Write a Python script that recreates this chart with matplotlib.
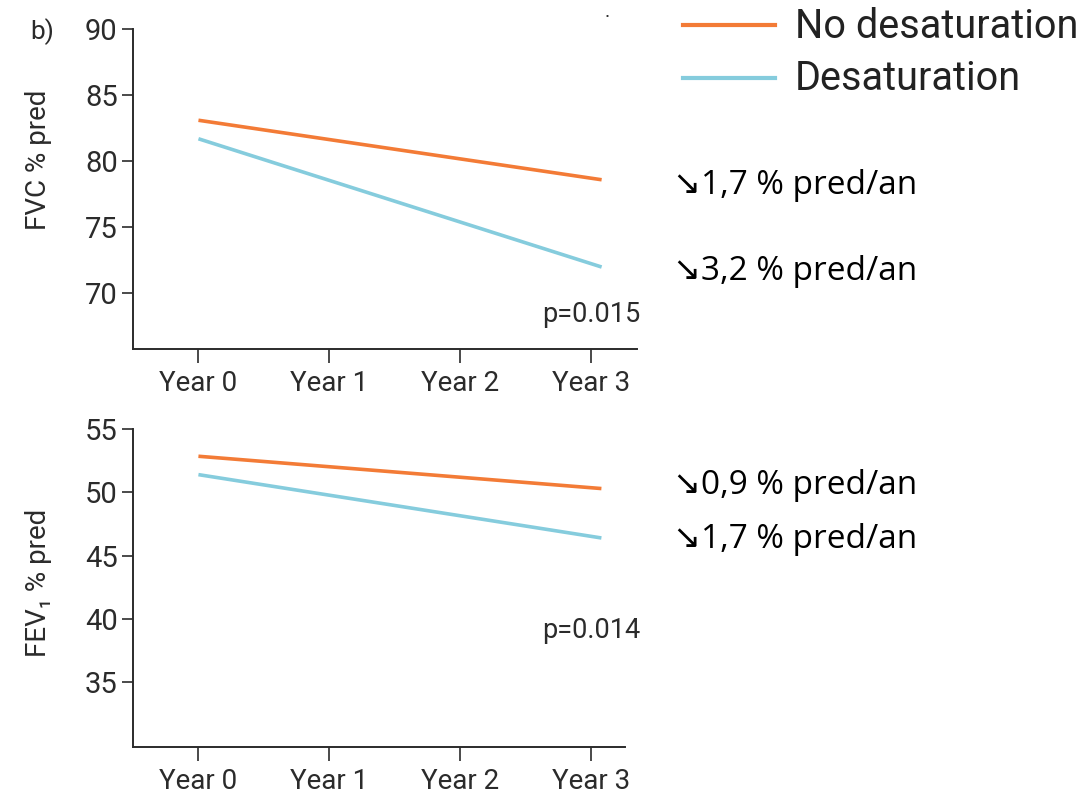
import matplotlib
matplotlib.use("Agg")
import matplotlib.pyplot as plt
from matplotlib.lines import Line2D

# Follow-up years and fitted trend endpoints
year_labels = ["Year 0", "Year 1", "Year 2", "Year 3"]
year_ticks = [0, 1, 2, 3]
fit_years = [0.0, 3.08]

fvc_no_desat = [83.1, 78.6]
fvc_desat = [81.7, 72.0]
fev1_no_desat = [52.85, 50.3]
fev1_desat = [51.4, 46.4]

fvc_ticks = [70, 75, 80, 85, 90]
fev1_ticks = [35, 40, 45, 50, 55]

series_names = ["No desaturation", "Desaturation"]
fvc_p = "p=0.015"
fev1_p = "p=0.014"
fvc_rates = ["\u21981,7 % pred/an", "\u21983,2 % pred/an"]
fev1_rates = ["\u21980,9 % pred/an", "\u21981,7 % pred/an"]

ORANGE = "#F37B36"
BLUE = "#85CCDD"
INK = "#2b2b2b"
W, H = 1092, 793

plt.rcParams["font.family"] = ["Roboto", "DejaVu Sans"]

fig = plt.figure(figsize=(W / 100, H / 100), dpi=100)
fig.patch.set_facecolor("white")

ax1 = fig.add_axes([0.1218, 0.5599, 0.4615, 0.4035])
ax2 = fig.add_axes([0.1218, 0.0580, 0.4505, 0.4010])


def style(ax, yticks, ylim, xlim, ylabel):
    for s in ("top", "right"):
        ax.spines[s].set_visible(False)
    for s in ("left", "bottom"):
        ax.spines[s].set_linewidth(1.4)
        ax.spines[s].set_color(INK)
    ax.set_ylim(*ylim)
    ax.set_xlim(*xlim)
    ax.set_yticks(yticks)
    ax.set_xticks(year_ticks)
    ax.set_xticklabels(year_labels)
    ax.tick_params(axis="y", length=8, width=1.2, color=INK, labelsize=21,
                   labelcolor=INK, pad=3)
    ax.tick_params(axis="x", length=10, width=1.2, color=INK, labelsize=20,
                   labelcolor=INK, pad=5)
    ax.set_ylabel(ylabel, fontsize=20, color=INK)


l1, = ax1.plot(fit_years, fvc_no_desat, color=ORANGE, lw=2.6, solid_capstyle="butt")
l2, = ax1.plot(fit_years, fvc_desat, color=BLUE, lw=2.6, solid_capstyle="butt")
style(ax1, fvc_ticks, (65.8, 90), (-0.50, 3.35), "FVC % pred")

ax2.plot(fit_years, fev1_no_desat, color=ORANGE, lw=2.6, solid_capstyle="butt")
ax2.plot(fit_years, fev1_desat, color=BLUE, lw=2.6, solid_capstyle="butt")
style(ax2, fev1_ticks, (29.9, 55), (-0.50, 3.26), "FEV\u2081 % pred")

ax1.yaxis.set_label_coords(-0.16, 0.59)
ax2.yaxis.set_label_coords(-0.165, 0.516)

# p-values
ax1.text(3.0, 68.4, fvc_p, fontsize=19.5, color=INK, ha="center", va="center")
ax2.text(3.0, 39.1, fev1_p, fontsize=19.5, color=INK, ha="center", va="center")

# panel label
fig.text(30 / W, 1 - 32 / H, "b)", fontsize=19, color=INK, ha="left", va="center")
fig.text(607 / W, 1 - 12 / H, ".", fontsize=14, color=INK, ha="center", va="center")

# legend drawn by hand
for (name, color), ypx in zip(zip(series_names, [ORANGE, BLUE]), [25, 78]):
    fig.add_artist(Line2D([683 / W, 775 / W], [1 - ypx / H, 1 - ypx / H],
                          color=color, lw=3.0, transform=fig.transFigure))
    fig.text(795 / W, 1 - (ypx + 1) / H, name, fontsize=28.5, color="#222222",
             ha="left", va="center")

# yearly decline rates
rate_font = ["Open Sans", "DejaVu Sans"]
for txt, ypx in zip(fvc_rates + fev1_rates, [185, 272, 485, 540]):
    fig.text(673 / W, 1 - ypx / H, txt, fontsize=24, color="black",
             family=rate_font, ha="left", va="center")

fig.savefig("out.png", dpi=100, facecolor="white")
